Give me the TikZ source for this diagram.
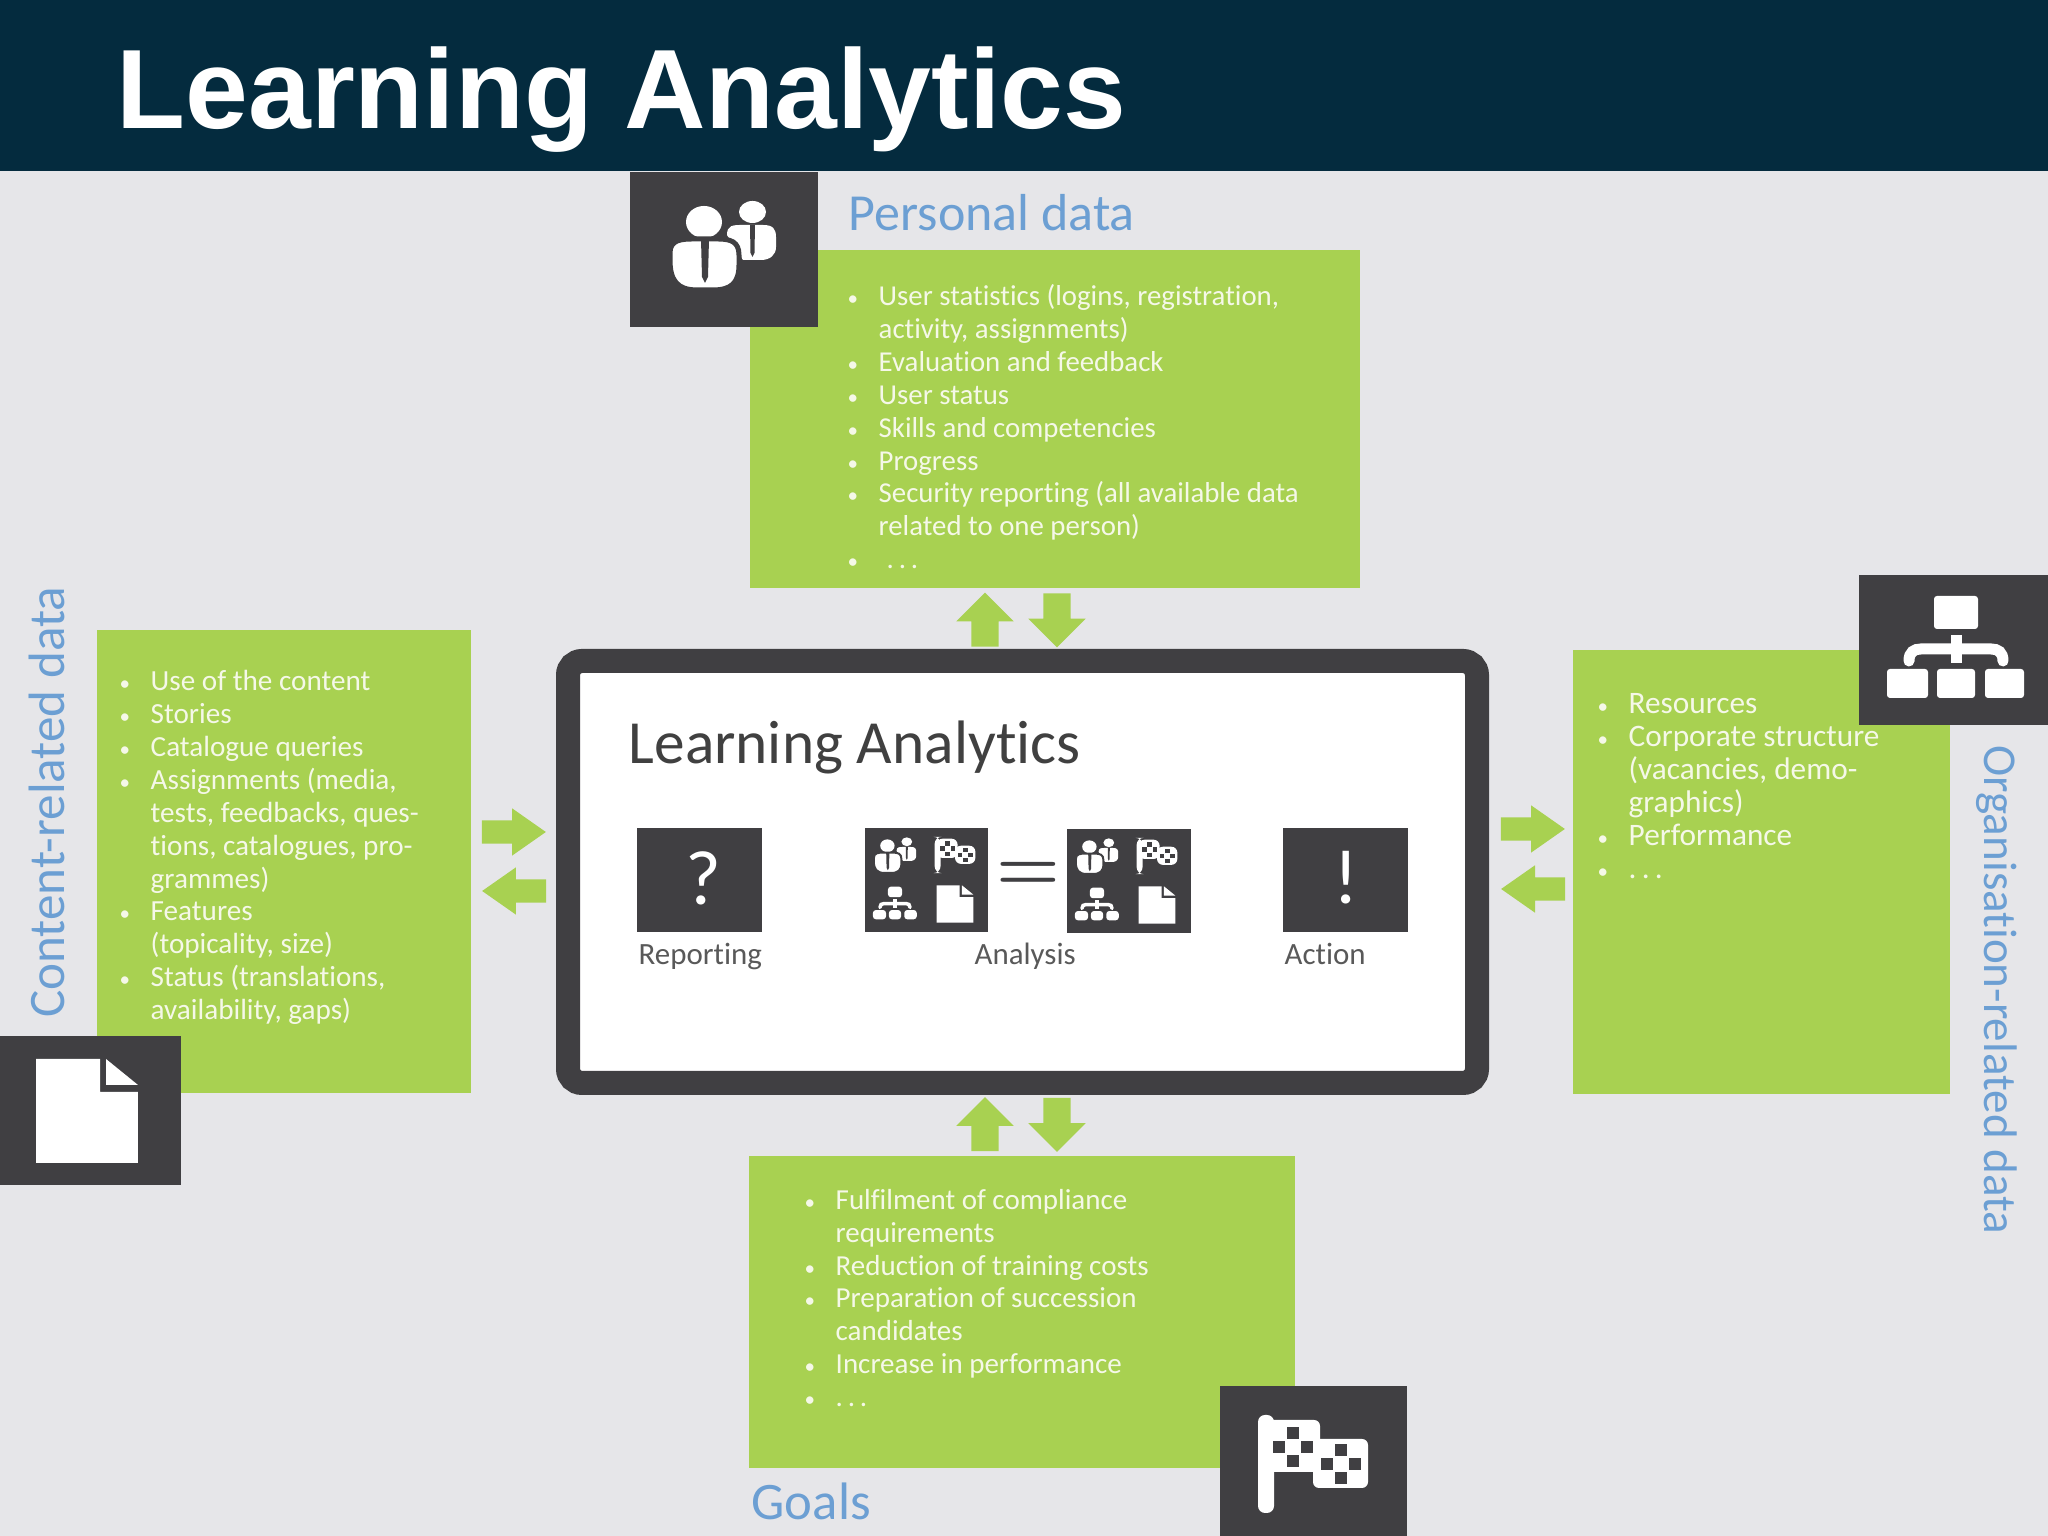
\documentclass[tikz,border=0pt]{standalone}
\usepackage{fontspec}
\setmainfont{Carlito}[Ligatures=NoCommon]
\newfontfamily\headfont{Liberation Sans}
\usetikzlibrary{shapes.arrows}
\definecolor{headblue}{RGB}{4, 43, 62}
\definecolor{slidebg}{RGB}{230, 230, 233}
\definecolor{boxgreen}{RGB}{168, 209, 81}
\definecolor{icondark}{RGB}{64, 63, 66}
\definecolor{labelblue}{RGB}{108, 159, 211}
\definecolor{listtext}{RGB}{245, 248, 232}
\newcommand{\listfont}[1]{\fontsize{#1}{9.35}\selectfont}
\newcommand{\bul}{\makebox[0.27cm][l]{\hspace*{-0.04cm}\fontsize{6}{6}\selectfont\textbullet}}
\newcommand{\cont}{\hspace*{0.27cm}}
\newcommand{\spdots}{.\,.\,.}
\tikzset{
  greenbox/.style={fill=boxgreen, inner sep=0pt},
  iconbox/.style={fill=icondark, inner sep=0pt},
  listnode/.style={anchor=north west, inner sep=0pt, align=left, text=listtext},
  bluelabel/.style={text=labelblue, inner sep=0pt},
  stagelabel/.style={anchor=base west, font=\fontsize{8.8}{10}\selectfont, text=black!65, inner sep=0pt},
  greenarrow/.style={single arrow, fill=boxgreen, draw=none, single arrow head indent=0pt,
    single arrow head extend=0.15cm, inner sep=0.13cm, minimum height=0.54cm, minimum width=0.56cm},
  sidearrow/.style={greenarrow, minimum height=0.64cm, minimum width=0.46cm, inner sep=0.11cm,
    single arrow head extend=0.12cm, single arrow tip angle=70},
  personicon/.pic={
    \fill[white] (0.295,0.33) ellipse (0.135 and 0.11);
    \fill[white] (0.04,0.1) .. controls (0.04,0.2) and (0.1,0.2) .. (0.2,0.2) -- (0.4,0.2) .. controls (0.5,0.2) and (0.53,0.16) .. (0.53,0.08) -- (0.53,-0.02) .. controls (0.53,-0.1) and (0.47,-0.15) .. (0.38,-0.15) -- (0.2,-0.15) -- cycle;
    \fill[icondark] (0.27,0.2) -- (0.32,0.2) -- (0.315,-0.08) -- (0.295,-0.12) -- (0.275,-0.08) -- cycle;
    \fill[white] (-0.19,0.23) ellipse (0.18 and 0.16);
    \filldraw[fill=white, draw=icondark, line width=#1] (-0.53,-0.08) .. controls (-0.53,0.05) and (-0.42,0.06) .. (-0.3,0.06) -- (-0.05,0.06) .. controls (0.08,0.06) and (0.16,0.03) .. (0.16,-0.1) -- (0.16,-0.2) .. controls (0.16,-0.38) and (0.08,-0.45) .. (-0.1,-0.45) -- (-0.26,-0.45) .. controls (-0.46,-0.45) and (-0.53,-0.35) .. (-0.53,-0.15) -- cycle;
    \fill[icondark] (-0.22,0.06) -- (-0.14,0.06) -- (-0.15,-0.32) -- (-0.18,-0.38) -- (-0.21,-0.32) -- cycle;
  },
  flagicon/.pic={
    \fill[white, rounded corners=0.07cm] (-0.55,-0.49) rectangle (-0.39,0.49);
    \fill[white, rounded corners=0.06cm] (-0.5,-0.08) rectangle (0.07,0.44);
    \fill[white, rounded corners=0.06cm] (0,-0.24) rectangle (0.55,0.25);
    \fill[icondark] (-0.26,0.25) rectangle (-0.14,0.37);
    \fill[icondark] (-0.26,-0.03) rectangle (-0.14,0.09);
    \fill[icondark] (-0.4,0.11) rectangle (-0.28,0.23);
    \fill[icondark] (-0.12,0.11) rectangle (0,0.23);
    \fill[icondark] (0.22,0.08) rectangle (0.34,0.2);
    \fill[icondark] (0.22,-0.2) rectangle (0.34,-0.08);
    \fill[icondark] (0.08,-0.06) rectangle (0.2,0.06);
    \fill[icondark] (0.36,-0.06) rectangle (0.48,0.06);
  },
  orgicon/.pic={
    \fill[white, rounded corners=0.03cm] (-0.22,0.18) rectangle (0.22,0.51);
    \draw[white, line width=#1] (0,0.12) -- (0,-0.16);
    \draw[white, line width=#1, line cap=round] (-0.47,-0.14) .. controls (-0.47,-0.05) and (-0.42,-0.02) .. (-0.35,-0.02) -- (0.35,-0.02) .. controls (0.42,-0.02) and (0.47,-0.05) .. (0.47,-0.14);
    \fill[white, rounded corners=0.03cm] (-0.69,-0.51) rectangle (-0.28,-0.22);
    \fill[white, rounded corners=0.03cm] (-0.19,-0.51) rectangle (0.19,-0.22);
    \fill[white, rounded corners=0.03cm] (0.29,-0.51) rectangle (0.68,-0.22);
  },
  docicon/.pic={
    \fill[white] (-0.51,-0.52) -- (-0.51,0.52) -- (0.13,0.52) -- (0.13,0.19) -- (0.51,0.19) -- (0.51,-0.52) -- cycle;
    \fill[white] (0.19,0.52) -- (0.51,0.26) -- (0.19,0.26) -- cycle;
  }
}

\begin{document}
\begin{tikzpicture}
  \useasboundingbox (0, 0) rectangle (20.48, 15.36);

  % Slide background and header
  \node[fill=slidebg, inner sep=0pt, minimum width=20.48cm, minimum height=15.36cm] (slide) at (10.24, 7.68) {};
  \node[fill=headblue, inner sep=0pt, minimum width=20.48cm, minimum height=1.71cm] (header) at (10.24, 14.505) {};
  \node[anchor=base west, inner sep=0pt, text=white, font=\headfont\bfseries\fontsize{32.1}{32}\selectfont] (title) at (1.16, 14.07) {Learning Analytics};

  % Personal data
  \node[greenbox, minimum width=6.1cm, minimum height=3.38cm] (personalbox) at (10.55, 11.17) {};
  \node[iconbox, minimum width=1.88cm, minimum height=1.55cm] (personaliconbox) at (7.24, 12.865) {};
  \pic (personal) at (7.23, 12.91) {personicon=0.05cm};
  \node[bluelabel, anchor=base west, font=\fontsize{14.8}{15}\selectfont] (personallabel) at (8.48, 13.05) {Personal data};
  \node[listnode, font=\listfont{8.2}] (personallist) at (8.51, 12.52) {
    \bul User statistics (logins, registration,\\
    \cont activity, assignments)\\
    \bul Evaluation and feedback\\
    \bul User status\\
    \bul Skills and competencies\\
    \bul Progress\\
    \bul Security reporting (all available data\\
    \cont related to one person)\\
    \bul \hspace*{0.08cm}\spdots
  };

  % Content-related data
  \node[greenbox, minimum width=3.74cm, minimum height=4.63cm] (contentbox) at (2.84, 6.745) {};
  \node[iconbox, minimum width=1.81cm, minimum height=1.49cm] (contenticonbox) at (0.905, 4.255) {};
  \pic (content) at (0.87, 4.25) {docicon};
  \node[bluelabel, anchor=base west, rotate=90, font=\fontsize{14.55}{15}\selectfont] (contentlabel) at (0.65, 5.175) {Content-related data};
  \node[listnode, font=\listfont{8.3}] (contentlist) at (1.23, 8.66) {
    \bul Use of the content\\
    \bul Stories\\
    \bul Catalogue queries\\
    \bul Assignments (media,\\
    \cont tests, feedbacks, ques-\\
    \cont tions, catalogues, pro-\\
    \cont grammes)\\
    \bul Features\\
    \cont (topicality, size)\\
    \bul Status (translations,\\
    \cont availability, gaps)
  };

  % Organisation-related data
  \node[greenbox, minimum width=3.77cm, minimum height=4.44cm] (orgbox) at (17.615, 6.64) {};
  \node[iconbox, minimum width=1.89cm, minimum height=1.5cm] (orgiconbox) at (19.535, 8.86) {};
  \pic (org) at (19.56, 8.89) {orgicon=0.11cm};
  \node[bluelabel, anchor=base west, rotate=-90, font=\fontsize{13.4}{14}\selectfont] (orglabel) at (19.84, 7.91) {Organisation-related data};
  \node[listnode, font=\listfont{8.9}] (orglist) at (16.01, 8.43) {
    \bul Resources\\
    \bul Corporate structure\\
    \cont (vacancies, demo-\\
    \cont graphics)\\
    \bul Performance\\
    \bul \spdots
  };

  % Goals
  \node[greenbox, minimum width=5.46cm, minimum height=3.12cm] (goalsbox) at (10.215, 2.24) {};
  \node[iconbox, minimum width=1.87cm, minimum height=1.5cm] (goalsiconbox) at (13.135, 0.75) {};
  \pic (goals) at (13.13, 0.72) {flagicon};
  \node[bluelabel, anchor=base west, font=\fontsize{15}{15}\selectfont] (goalslabel) at (7.51, 0.16) {Goals};
  \node[listnode, font=\listfont{8.25}] (goalslist) at (8.08, 3.475) {
    \bul Fulfilment of compliance\\
    \cont requirements\\
    \bul Reduction of training costs\\
    \bul Preparation of succession\\
    \cont candidates\\
    \bul Increase in performance\\
    \bul \spdots
  };

  % Learning Analytics frame
  \node[fill=white, draw=icondark, line width=0.24cm, rounded corners=0.14cm, inner sep=0pt, minimum width=9.09cm, minimum height=4.22cm] (frame) at (10.225, 6.64) {};
  \node[anchor=base west, inner sep=0pt, text=black!75, font=\fontsize{17.45}{20}\selectfont] (frametitle) at (6.28, 7.72) {Learning Analytics};

  % Reporting
  \node[iconbox, minimum width=1.25cm, minimum height=1.04cm] (reportingbox) at (6.995, 6.56) {};
  \node[text=white, inner sep=0pt, font=\fontsize{22}{22}\selectfont] (question) at (7.03, 6.58) {?};
  \node[stagelabel] (reportinglabel) at (6.38, 5.71) {Reporting};

  % Analysis
  \node[iconbox, minimum width=1.23cm, minimum height=1.04cm] (analysisbox) at (9.265, 6.56) {};
  \pic (a) at (8.95, 6.81) [scale=0.4] {personicon=0.02cm};
  \pic (b) at (9.55, 6.81) [scale=0.37] {flagicon};
  \pic (c) at (8.95, 6.33) [scale=0.32] {orgicon=0.035cm};
  \pic (d) at (9.55, 6.32) [scale=0.36] {docicon};
  \node[text=icondark, inner sep=0pt, font=\boldmath\fontsize{21}{21}\selectfont] (equals) at (10.28, 6.6) {$=$};
  \node[iconbox, minimum width=1.24cm, minimum height=1.04cm] (resultbox) at (11.29, 6.55) {};
  \pic (e) at (10.97, 6.8) [scale=0.4] {personicon=0.02cm};
  \pic (f) at (11.57, 6.8) [scale=0.37] {flagicon};
  \pic (g) at (10.97, 6.32) [scale=0.32] {orgicon=0.035cm};
  \pic (h) at (11.57, 6.31) [scale=0.36] {docicon};
  \node[stagelabel] (analysislabel) at (9.74, 5.71) {Analysis};

  % Action
  \node[iconbox, minimum width=1.25cm, minimum height=1.04cm] (actionbox) at (13.455, 6.56) {};
  \node[text=white, inner sep=0pt, font=\fontsize{22}{22}\selectfont] (exclaim) at (13.46, 6.58) {!};
  \node[stagelabel] (actionlabel) at (12.84, 5.71) {Action};

  % Arrows
  \node[greenarrow, rotate=90] (personalup) at (9.85, 9.095) {};
  \node[greenarrow, rotate=-90] (personaldown) at (10.57, 9.225) {};
  \node[greenarrow, rotate=90] (goalsup) at (9.85, 4.05) {};
  \node[greenarrow, rotate=-90] (goalsdown) at (10.57, 4.18) {};
  \node[sidearrow] (contentright) at (5.055, 7.04) {};
  \node[sidearrow, rotate=180] (contentleft) at (5.225, 6.45) {};
  \node[sidearrow] (orgright) at (15.245, 7.07) {};
  \node[sidearrow, rotate=180] (orgleft) at (15.415, 6.47) {};
\end{tikzpicture}
\end{document}
